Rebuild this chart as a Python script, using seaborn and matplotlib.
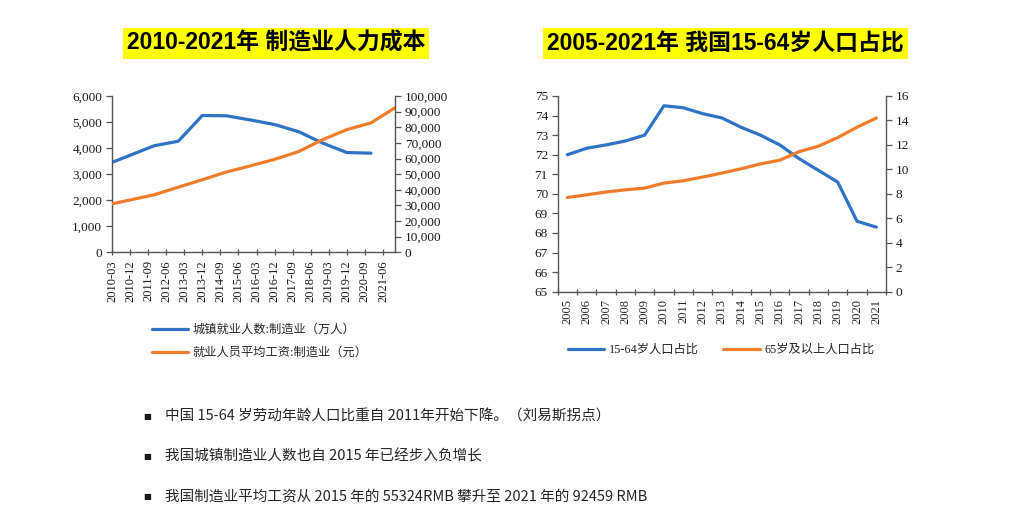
import numpy as np
import pandas as pd
import matplotlib
matplotlib.use("Agg")
import matplotlib.pyplot as plt
import seaborn as sns
from matplotlib.ticker import FuncFormatter, FixedLocator, NullFormatter

sns.set_theme(style="ticks")
plt.rcParams['font.family'] = ['Liberation Serif', 'Noto Sans CJK SC', 'DejaVu Sans']
plt.rcParams['axes.unicode_minus'] = False

# ---------------- data ----------------
left_title = "2010-2021年 制造业人力成本"
right_title = "2005-2021年 我国15-64岁人口占比"

emp_label = "城镇就业人数:制造业（万人）"
wage_label = "就业人员平均工资:制造业（元）"
emp_dates = ["2010-03", "2011-12", "2012-12", "2013-12", "2014-12", "2015-12",
             "2016-12", "2017-12", "2018-12", "2019-12", "2020-12"]
emp_values = [3450, 4090, 4262, 5250, 5240, 5080, 4905, 4630, 4190, 3830, 3805]
wage_dates = ["2010-03", "2011-12", "2012-12", "2013-12", "2014-12", "2015-12",
              "2016-12", "2017-12", "2018-12", "2019-12", "2020-12", "2021-12"]
wage_values = [31000, 36800, 41650, 46431, 51369, 55324, 59470, 64452, 72088, 78500, 82783, 92459]
left_xticklabels = ["2010-03", "2010-12", "2011-09", "2012-06", "2013-03", "2013-12",
                    "2014-09", "2015-06", "2016-03", "2016-12", "2017-09", "2018-06",
                    "2019-03", "2019-12", "2020-09", "2021-06"]
left_axis_end = "2021-12"

pop_years = ["2005", "2006", "2007", "2008", "2009", "2010", "2011", "2012", "2013",
             "2014", "2015", "2016", "2017", "2018", "2019", "2020", "2021"]
pop1564_label = "15-64岁人口占比"
pop65_label = "65岁及以上人口占比"
pop1564 = [72.0, 72.33, 72.5, 72.7, 73.0, 74.5, 74.4, 74.1, 73.88, 73.4, 73.0, 72.5,
           71.8, 71.2, 70.6, 68.6, 68.3]
pop65 = [7.7, 7.92, 8.15, 8.33, 8.47, 8.88, 9.07, 9.37, 9.7, 10.05, 10.45, 10.75,
         11.45, 11.9, 12.6, 13.45, 14.2]

bullets = [
    "中国 15-64 岁劳动年龄人口比重自 2011年开始下降。（刘易斯拐点）",
    "我国城镇制造业人数也自 2015 年已经步入负增长",
    "我国制造业平均工资从 2015 年的 55324RMB 攀升至 2021 年的 92459 RMB",
]

BLUE = "#2F72C6"
ORANGE = "#F07D2C"
SPINE = "#555555"

def qindex(s):
    y, m = s.split("-")
    return (int(y) - 2010) * 4 + int(m) // 3 - 1

W, H = 1009, 530
fig = plt.figure(figsize=(W / 100, H / 100), dpi=100)

def fx(px):
    return px / W

def fy(py):
    return 1 - py / H

# ---------------- left chart ----------------
axL = fig.add_axes([fx(112), fy(252.3), fx(395 - 112), (252.3 - 96) / H])
emp_df = pd.DataFrame({"q": [qindex(d) for d in emp_dates], "v": emp_values})
wage_df = pd.DataFrame({"q": [qindex(d) for d in wage_dates], "v": wage_values})
sns.lineplot(data=emp_df, x="q", y="v", ax=axL, color=BLUE, linewidth=2.3, legend=False)
axL2 = axL.twinx()
sns.lineplot(data=wage_df, x="q", y="v", ax=axL2, color=ORANGE, linewidth=2.3, legend=False)

axL.set_xlim(0, qindex(left_axis_end))
axL.set_ylim(0, 6000)
axL2.set_ylim(0, 100000)
axL.set_yticks(np.arange(0, 6001, 1000))
axL2.set_yticks(np.arange(0, 100001, 10000))
axL.yaxis.set_major_formatter(FuncFormatter(lambda v, p: f"{v:,.0f}"))
axL2.yaxis.set_major_formatter(FuncFormatter(lambda v, p: f"{v:,.0f}"))
axL.set_xticks([qindex(s) for s in left_xticklabels])
axL.set_xticklabels(left_xticklabels, rotation=90)

# ---------------- right chart ----------------
axR = fig.add_axes([fx(557.7), fy(291.7), fx(886 - 557.7), (291.7 - 96) / H])
pos = np.arange(len(pop_years))
pop_df = pd.DataFrame({"x": pos, "a": pop1564, "b": pop65})
sns.lineplot(data=pop_df, x="x", y="a", ax=axR, color=BLUE, linewidth=2.3, legend=False)
axR2 = axR.twinx()
sns.lineplot(data=pop_df, x="x", y="b", ax=axR2, color=ORANGE, linewidth=2.3, legend=False)
axR.set_xlim(-0.5, len(pop_years) - 0.5)
axR.set_ylim(65, 75)
axR2.set_ylim(0, 16)
axR.set_yticks(np.arange(65, 76, 1))
axR2.set_yticks(np.arange(0, 17, 2))
axR.xaxis.set_major_locator(FixedLocator(np.arange(-0.5, len(pop_years), 1.0)))
axR.xaxis.set_major_formatter(NullFormatter())
axR.xaxis.set_minor_locator(FixedLocator(pos))
axR.set_xticklabels(pop_years, minor=True, rotation=90)
axR.tick_params(axis="x", which="minor", length=0, labelsize=9, pad=5)

# ---------------- common styling ----------------
for a in (axL, axL2, axR, axR2):
    a.set_xlabel("")
    a.set_ylabel("")
    a.spines["top"].set_visible(False)
    for s in a.spines.values():
        s.set_color(SPINE)
        s.set_linewidth(1.0)
    a.grid(False)
for a in (axL, axR):
    a.tick_params(axis="y", direction="out", length=4, width=0.9, color=SPINE,
                  labelsize=9.5, labelcolor="#1a1a1a", pad=3)
    a.tick_params(axis="x", which="major", direction="inout", length=5, width=0.9,
                  color=SPINE, labelsize=9, labelcolor="#1a1a1a", pad=3)
    a.spines["right"].set_visible(False)
for a in (axL2, axR2):
    a.tick_params(axis="y", direction="out", length=4, width=0.9, color=SPINE,
                  labelsize=9.5, labelcolor="#1a1a1a", pad=3)
    a.spines["left"].set_visible(False)
    a.spines["bottom"].set_visible(False)

# ---------------- titles ----------------
title_font = ['Liberation Sans', 'Noto Sans CJK SC', 'DejaVu Sans']
for txt, cx in ((left_title, 276), (right_title, 725.5)):
    fig.text(fx(cx), fy(43.5), txt, ha="center", va="center", fontsize=16.5,
             fontweight="bold", family=title_font, color="black",
             bbox=dict(facecolor="#FFFF00", edgecolor="none", pad=3))

# ---------------- legends ----------------
leg_font = ['Liberation Serif', 'Noto Sans CJK SC', 'DejaVu Sans']
hL = [axL.get_lines()[0], axL2.get_lines()[0]]
fig.legend(hL, [emp_label, wage_label], loc="center left",
           bbox_to_anchor=(fx(151.7), fy(341.5)), frameon=False, ncol=1,
           borderpad=0, borderaxespad=0, handlelength=3.0, handletextpad=0.35,
           labelspacing=0.9, prop={"family": leg_font, "size": 8.8})
hR = [axR.get_lines()[0], axR2.get_lines()[0]]
fig.legend(hR, [pop1564_label, pop65_label], loc="center left",
           bbox_to_anchor=(fx(567.7), fy(350)), frameon=False, ncol=2,
           borderpad=0, borderaxespad=0, handlelength=3.0, handletextpad=0.35,
           columnspacing=2.0, prop={"family": leg_font, "size": 8.8})

# ---------------- bullet text ----------------
body_font = ['Noto Sans CJK SC', 'DejaVu Sans']
for i, line in enumerate(bullets):
    yy = 416.7 + 40 * i
    fig.text(fx(146.7), fy(yy), "■", ha="center", va="center", fontsize=6,
             family=['DejaVu Sans'], color="#1a1a1a")
    fig.text(fx(165), fy(yy), line, ha="left", va="center", fontsize=10.5,
             family=body_font, color="#262626")

fig.savefig("out.png", dpi=100)
